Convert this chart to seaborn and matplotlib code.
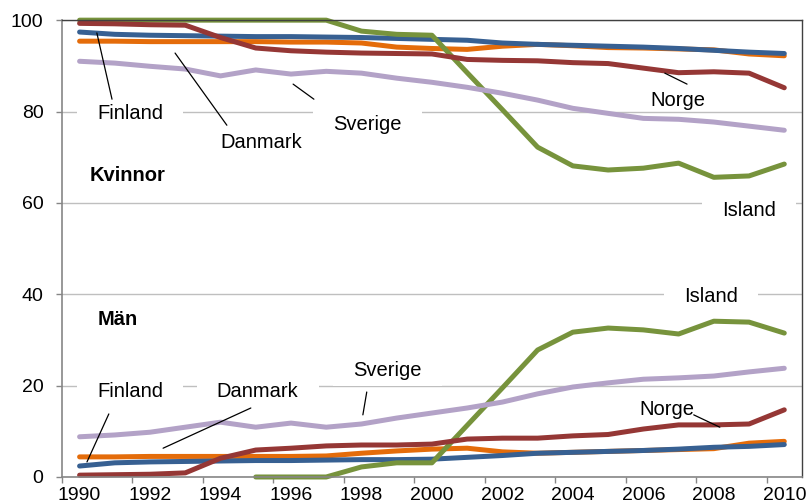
import numpy as np
import pandas as pd
import matplotlib
matplotlib.use("Agg")
import matplotlib.pyplot as plt
from matplotlib.path import Path
import seaborn as sns

years = list(range(1990, 2011))
countries = ["Danmark", "Finland", "Island", "Norge", "Sverige"]
colors = {"Danmark": "#E46C0A", "Finland": "#376092", "Island": "#77933C",
          "Norge": "#953735", "Sverige": "#B3A2C7"}

# Kvinnor (women)
w_danmark = [95.4, 95.4, 95.3, 95.3, 95.3, 95.3, 95.2, 95.2, 95.0, 94.1, 93.8,
             93.6, 94.3, 94.7, 94.4, 94.0, 93.9, 93.7, 93.5, 92.6, 92.2]
w_finland = [97.4, 96.9, 96.7, 96.6, 96.5, 96.4, 96.4, 96.3, 96.2, 96.0, 95.8,
             95.6, 95.0, 94.7, 94.5, 94.3, 94.1, 93.8, 93.4, 93.0, 92.7]
w_island = [100, 100, 100, 100, 100, 100, 100, 100, 97.6, 96.9, 96.7,
            88.5, 80.4, 72.2, 68.1, 67.2, 67.6, 68.7, 65.6, 65.9, 68.5]
w_norge = [99.3, 99.2, 99.0, 98.9, 96.2, 93.9, 93.3, 93.0, 92.8, 92.7, 92.6,
           91.4, 91.2, 91.1, 90.7, 90.5, 89.5, 88.5, 88.7, 88.4, 85.2]
w_sverige = [91.0, 90.6, 89.9, 89.3, 87.8, 89.1, 88.2, 88.8, 88.4, 87.3, 86.4,
             85.3, 84.0, 82.5, 80.7, 79.6, 78.5, 78.3, 77.7, 76.8, 75.9]

# Män (men)
m_danmark = [4.4, 4.4, 4.5, 4.5, 4.5, 4.5, 4.5, 4.6, 5.2, 5.7, 6.1,
             6.3, 5.5, 5.2, 5.4, 5.6, 5.8, 6.0, 6.2, 7.4, 7.8]
m_finland = [2.4, 3.1, 3.3, 3.4, 3.5, 3.6, 3.6, 3.7, 3.8, 3.8, 3.9,
             4.3, 4.7, 5.2, 5.4, 5.6, 5.8, 6.1, 6.5, 6.7, 7.1]
m_island = [np.nan, np.nan, np.nan, np.nan, np.nan, 0.0, 0.0, 0.0, 2.2, 3.1, 3.1,
            11.3, 19.5, 27.8, 31.7, 32.6, 32.2, 31.3, 34.1, 33.9, 31.5]
m_norge = [0.4, 0.5, 0.6, 0.9, 4.1, 5.9, 6.3, 6.8, 7.0, 7.0, 7.2,
           8.3, 8.5, 8.5, 9.0, 9.3, 10.5, 11.4, 11.4, 11.6, 14.7]
m_sverige = [8.8, 9.2, 9.8, 10.9, 12.0, 10.9, 11.8, 10.9, 11.6, 12.9, 14.0,
             15.1, 16.4, 18.2, 19.7, 20.6, 21.4, 21.7, 22.1, 23.0, 23.8]

tick_years = list(range(1990, 2011, 2))
tick_labels = [str(y) for y in tick_years]

women = {"Danmark": w_danmark, "Finland": w_finland, "Island": w_island,
         "Norge": w_norge, "Sverige": w_sverige}
men = {"Danmark": m_danmark, "Finland": m_finland, "Island": m_island,
       "Norge": m_norge, "Sverige": m_sverige}

# Category axis: each year occupies [year, year+1), value drawn at its centre
rows = []
for sex, d in (("Kvinnor", women), ("Män", men)):
    for c in countries:
        for y, v in zip(years, d[c]):
            rows.append({"year": y, "x": y + 0.5, "value": v, "country": c, "sex": sex})
df = pd.DataFrame(rows)

sns.set_theme(style="white")
plt.rcParams["font.family"] = ["Liberation Sans", "DejaVu Sans"]
plt.rcParams["text.color"] = "black"

fig = plt.figure(figsize=(8.1, 5.04), dpi=100)
ax = fig.add_axes([0.0765, 0.0536, 0.9135, 0.9064])

for c in countries:
    sub = df[df["country"] == c]
    sns.lineplot(data=sub, x="x", y="value", units="sex", estimator=None,
                 color=colors[c], linewidth=3.6, ax=ax, legend=False,
                 clip_on=False, solid_capstyle="round", solid_joinstyle="round")

ax.set_xlim(years[0], years[-1] + 1)
ax.set_ylim(0, 100)
# tick marks at category boundaries, labels at category centres
ax.set_xticks(tick_years)
ax.set_xticklabels([])
ax.set_xticks([y + 0.5 for y in tick_years], minor=True)
ax.set_xticklabels(tick_labels, minor=True)
ax.set_yticks([0, 20, 40, 60, 80, 100])
ax.set_xlabel("")
ax.set_ylabel("")
ax.yaxis.grid(True, color="#BFBFBF", linewidth=1.0, zorder=0)
ax.set_axisbelow(True)
ax.tick_params(axis="x", which="major", bottom=True, length=4.3, width=1,
               direction="out", color="#868686")
ax.tick_params(axis="x", which="minor", bottom=True, length=0, labelsize=14,
               pad=7.2, labelcolor="black")
ax.tick_params(axis="y", left=True, length=4.3, width=1, direction="out",
               color="#868686", labelsize=14, pad=9.0, labelcolor="black")
for s in ("left", "bottom"):
    ax.spines[s].set_color("#868686")
    ax.spines[s].set_linewidth(1.2)
for s in ("top", "right"):
    ax.spines[s].set_color("#404040")
    ax.spines[s].set_linewidth(1.0)

fs = 14.5


def wide_box(x0, y0, width, height, mutation_size):
    hp = 1.0 * mutation_size
    vp = 0.3 * mutation_size
    xa, xb = x0 - hp, x0 + width + hp
    ya, yb = y0 - vp, y0 + height + vp
    return Path([(xa, ya), (xb, ya), (xb, yb), (xa, yb), (xa, ya)],
                [Path.MOVETO, Path.LINETO, Path.LINETO, Path.LINETO, Path.CLOSEPOLY])


box = dict(boxstyle=wide_box, fc="white", ec="none")


def label(text, xy, leader=None, bold=False, bg=True):
    kw = dict(fontsize=fs, ha="center", va="center", zorder=5, color="black",
              fontweight="bold" if bold else "normal")
    if bg:
        kw["bbox"] = box
    ax.text(xy[0], xy[1], text, **kw)
    if leader is not None:
        ax.annotate("", xy=leader[0], xytext=leader[1],
                    arrowprops=dict(arrowstyle="-", color="black", lw=0.9,
                                    shrinkA=0, shrinkB=0), zorder=6)


# Kvinnor labels
label("Finland", (1991.93, 79.6), ((1990.99, 97.2), (1991.42, 82.7)))
label("Danmark", (1995.65, 73.3), ((1993.21, 92.8), (1994.68, 77.0)))
label("Sverige", (1998.68, 77.2), ((1996.56, 86.0), (1997.15, 82.7)))
label("Norge", (2007.48, 82.5), ((2007.11, 88.4), (2007.74, 86.0)), bg=False)
label("Island", (2009.5, 58.4))
label("Kvinnor", (1991.87, 66.1), bold=True, bg=False)

# Män labels
label("Island", (2008.42, 39.6))
label("Män", (1991.59, 34.4), bold=True, bg=False)
label("Finland", (1991.93, 18.8), ((1991.33, 13.8), (1990.71, 3.3)))
label("Danmark", (1995.55, 18.8), ((1995.36, 15.1), (1992.87, 6.3)))
label("Sverige", (1999.25, 23.4), ((1998.65, 18.6), (1998.54, 13.6)))
label("Norge", (2007.17, 14.7), ((2007.93, 13.6), (2008.67, 10.9)), bg=False)

fig.savefig("out.png", dpi=100)
